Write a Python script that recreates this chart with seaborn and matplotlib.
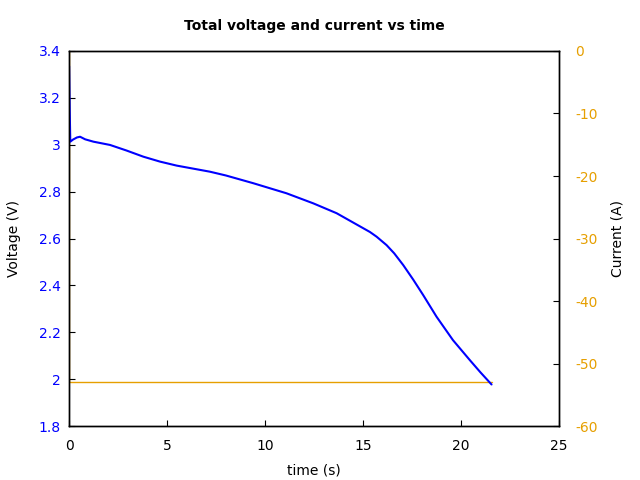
import matplotlib
matplotlib.use("Agg")
import matplotlib.pyplot as plt
import seaborn as sns

time_v = [0.0, 0.03, 0.06, 0.2, 0.4, 0.56, 0.82, 1.24, 2.09, 2.94, 3.79, 4.64, 5.49, 6.34, 7.19,
          8.0, 9.4, 11.1, 12.47, 13.66, 14.85, 15.36, 15.7, 16.21, 16.6, 17.06, 17.57, 18.08,
          18.76, 19.6, 20.46, 21.0, 21.57]
voltage = [3.335, 3.15, 3.013, 3.022, 3.031, 3.034, 3.023, 3.013, 2.999, 2.975, 2.949, 2.928,
           2.911, 2.898, 2.885, 2.869, 2.836, 2.793, 2.750, 2.708, 2.652, 2.628, 2.608, 2.572,
           2.537, 2.487, 2.425, 2.359, 2.267, 2.167, 2.082, 2.030, 1.978]
time_i = [0.0, 0.0, 21.57]
current = [0.0, -53.0, -53.0]

BLUE = "#0000ff"
ORANGE = "#e69f00"

sns.set_style("white")
plt.rcParams["axes.unicode_minus"] = False
plt.rcParams["text.color"] = "black"
plt.rcParams["axes.labelcolor"] = "black"

fig, ax = plt.subplots(figsize=(6.4, 4.8), dpi=100)
fig.subplots_adjust(left=0.108, right=0.873, top=0.894, bottom=0.112)
ax2 = ax.twinx()

sns.lineplot(x=time_i, y=current, ax=ax2, color=ORANGE, linewidth=1.0, sort=False, estimator=None)
sns.lineplot(x=time_v, y=voltage, ax=ax, color=BLUE, linewidth=1.5, sort=False, estimator=None)
ax.set_zorder(ax2.get_zorder() + 1)
ax.patch.set_visible(False)

ax.set_xlim(0, 25)
ax.set_ylim(1.8, 3.4)
ax2.set_ylim(-60, 0)
ax.set_xticks([0, 5, 10, 15, 20, 25])
ax.set_yticks([1.8, 2.0, 2.2, 2.4, 2.6, 2.8, 3.0, 3.2, 3.4])
ax.set_yticklabels(["1.8", "2", "2.2", "2.4", "2.6", "2.8", "3", "3.2", "3.4"])
ax2.set_yticks([0, -10, -20, -30, -40, -50, -60])

ax.tick_params(axis="both", direction="in", length=4, labelsize=10, colors="black")
ax.tick_params(axis="y", labelcolor=BLUE, left=True, pad=6)
ax.tick_params(axis="x", bottom=True, labelcolor="black", pad=9)
ax2.tick_params(axis="y", direction="in", length=4, labelsize=10, colors="black",
                labelcolor=ORANGE, right=True, pad=12)

for a in (ax, ax2):
    for s in a.spines.values():
        s.set_color("black")
        s.set_linewidth(1.0)

ax.set_xlabel("time (s)", fontsize=10, labelpad=8, color="black")
ax.set_ylabel("Voltage (V)", fontsize=10, labelpad=13, color="black")
ax2.set_ylabel("Current (A)", fontsize=10, labelpad=9, color="black")
ax.set_title("Total voltage and current vs time", fontsize=10, fontweight="bold", pad=15,
             color="black")

fig.savefig("out.png", dpi=100)
